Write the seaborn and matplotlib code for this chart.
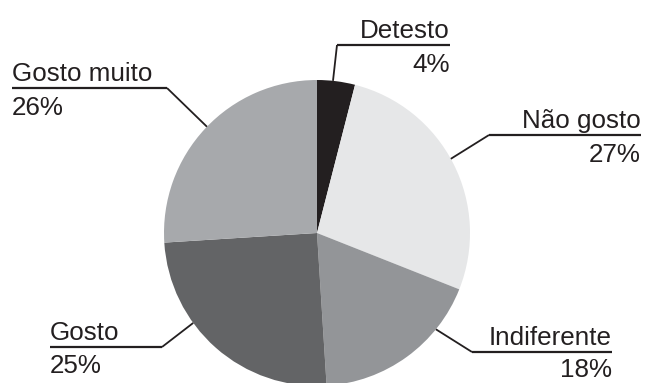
import matplotlib
matplotlib.use("Agg")
import matplotlib.pyplot as plt
import seaborn as sns
import numpy as np

# Survey answers, clockwise from 12 o'clock
categories = ["Detesto", "Não gosto", "Indiferente", "Gosto", "Gosto muito"]
percentages = [4, 27, 18, 25, 26]
pct_labels = [f"{p}%" for p in percentages]
gray_hex = ["#231f20", "#e6e7e8", "#939598", "#636466", "#a7a9ac"]

sns.set_theme(style="white")
plt.rcParams["font.family"] = ["Liberation Sans", "DejaVu Sans"]
palette = sns.color_palette(gray_hex)

INK = "#231f20"
W, H = 645, 383
fig = plt.figure(figsize=(W / 100, H / 100), dpi=100)
ax = fig.add_axes([0, 0, 1, 1])

# pie geometry in pixel units (y measured from the top of the image)
cx, cy_top, r = 317, 233, 153
cy = H - cy_top
ax.pie(percentages, colors=palette, startangle=90, counterclock=False,
       center=(cx, cy), radius=r, wedgeprops=dict(linewidth=0))
ax.set_xlim(0, W)
ax.set_ylim(0, H)
ax.set_aspect("equal")
ax.axis("off")

# label layout: underline x-range, underline y (from top), knee side,
# angle on the rim (deg clockwise from top), text alignment, gap to the %
layout = {
    "Detesto":     dict(x0=337, x1=450, y=45,  knee="left",  ang=6,   ha="right", gap=27),
    "Não gosto":   dict(x0=489, x1=641, y=135, knee="left",  ang=61,  ha="right", gap=27),
    "Indiferente": dict(x0=472, x1=612, y=352, knee="left",  ang=129, ha="right", gap=25),
    "Gosto":       dict(x0=50,  x1=162, y=347, knee="right", ang=234, ha="left",  gap=26),
    "Gosto muito": dict(x0=12,  x1=167, y=88,  knee="right", ang=314, ha="left",  gap=27),
}

fs = 18.7
for name, pct in zip(categories, pct_labels):
    L = layout[name]
    yl = H - L["y"]
    # underline
    ax.plot([L["x0"], L["x1"]], [yl, yl], color=INK, lw=1.6,
            solid_capstyle="butt")
    # leader from the knee to the rim of the slice
    kx = L["x0"] if L["knee"] == "left" else L["x1"]
    th = np.deg2rad(L["ang"])
    ex, ey = cx + r * np.sin(th), cy + r * np.cos(th)
    ax.plot([kx, ex], [yl, ey], color=INK, lw=1.3, solid_capstyle="butt")
    tx = L["x1"] if L["ha"] == "right" else L["x0"]
    ax.text(tx, yl + 7, name, ha=L["ha"], va="baseline", fontsize=fs,
            color=INK)
    ax.text(tx, yl - L["gap"], pct, ha=L["ha"], va="baseline", fontsize=fs,
            color=INK)

fig.savefig("out.png", dpi=100, facecolor="white")
